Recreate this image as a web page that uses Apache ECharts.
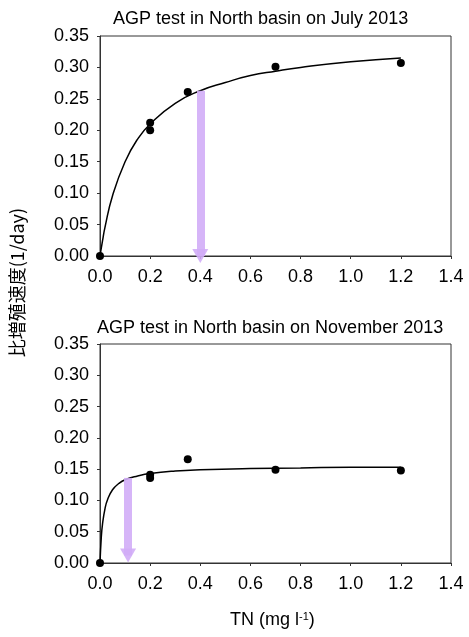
<!DOCTYPE html>
<html>
<head>
<meta charset="utf-8">
<script src="https://cdn.jsdelivr.net/npm/echarts@6/dist/echarts.min.js"></script>
<style>
  html, body { margin: 0; padding: 0; background: #fff; }
  #chart { width: 469px; height: 637px; }
</style>
</head>
<body>
<div id="chart"></div>
<script>
var xTicks = [0, 0.2, 0.4, 0.6, 0.8, 1.0, 1.2, 1.4];

// July 2013 - measured points
var julyX = [0, 0.2, 0.2, 0.35, 0.7, 1.2];
var julyY = [0, 0.212, 0.200, 0.261, 0.301, 0.307];
// July 2013 - fitted curve
var julyFitX = [0, 0.01, 0.02, 0.05, 0.1, 0.15, 0.2, 0.3, 0.4, 0.5, 0.6, 0.7, 0.8, 1.0, 1.2];
var julyFitY = [0, 0.024, 0.046, 0.096, 0.150, 0.186, 0.210, 0.243, 0.263, 0.276, 0.287, 0.294, 0.300, 0.309, 0.315];
var julyArrow = [0.4, 0.263, 0];

// November 2013
var novX = [0, 0.2, 0.2, 0.35, 0.7, 1.2];
var novY = [0, 0.141, 0.136, 0.166, 0.149, 0.148];
var novFitX = [0, 0.005, 0.01, 0.02, 0.03, 0.05, 0.075, 0.1, 0.15, 0.2, 0.3, 0.4, 0.6, 0.8, 1.0, 1.2];
var novFitY = [0, 0.040, 0.062, 0.087, 0.101, 0.117, 0.127, 0.133, 0.139, 0.143, 0.147, 0.149, 0.151, 0.152, 0.153, 0.153];
var novArrow = [0.112, 0.136, 0.012];

var titles = ['AGP test in North basin on July 2013', 'AGP test in North basin on November 2013'];

var chart = echarts.init(document.getElementById('chart'));
var font = 'Liberation Sans, Arial, sans-serif';
var arrowColor = '#d2adf7';

function zip(a, b) { return a.map(function (v, i) { return [v, b[i]]; }); }

function xAxis(idx) {
  return {
    gridIndex: idx, type: 'value', min: 0, max: 1.4, interval: 0.2,
    axisLine: { show: true, lineStyle: { color: '#333', width: 1 } },
    axisTick: { show: true, length: 3, lineStyle: { color: '#333' } },
    splitLine: { show: false },
    axisLabel: { color: '#000', fontSize: 18, fontFamily: font, margin: 12,
      formatter: function (v) { return v.toFixed(1); } }
  };
}
function yAxis(idx) {
  return {
    gridIndex: idx, type: 'value', min: 0, max: 0.35, interval: 0.05,
    axisLine: { show: true, lineStyle: { color: '#333', width: 1 } },
    axisTick: { show: true, length: 3, lineStyle: { color: '#333' } },
    splitLine: { show: false },
    axisLabel: { color: '#000', fontSize: 18, fontFamily: font, margin: 11,
      formatter: function (v) { return v.toFixed(2); } }
  };
}
function arrowSeries(idx, a) {
  return {
    type: 'line', xAxisIndex: idx, yAxisIndex: idx, data: [], z: 1,
    markLine: {
      silent: true, symbol: ['none', 'triangle'], symbolSize: [16, 14],
      label: { show: false },
      lineStyle: { color: arrowColor, width: 8, type: 'solid', opacity: 0.9 },
      data: [[{ coord: [a[0], a[1]] }, { coord: [a[0], a[2]] }]]
    }
  };
}

var option = {
  animation: false,
  title: [
    { text: titles[0], left: 108, top: 5, textStyle: { fontSize: 18, fontWeight: 'normal', color: '#000', fontFamily: font } },
    { text: titles[1], left: 92, top: 314, textStyle: { fontSize: 18, fontWeight: 'normal', color: '#000', fontFamily: font } }
  ],
  grid: [
    { left: 100, top: 36, width: 351, height: 220, show: true, borderColor: '#333', borderWidth: 1 },
    { left: 100, top: 344, width: 351, height: 219, show: true, borderColor: '#333', borderWidth: 1 }
  ],
  xAxis: [xAxis(0), xAxis(1)],
  yAxis: [yAxis(0), yAxis(1)],
  graphic: [
    { type: 'text', left: 8, top: 208, rotation: Math.PI / 2,
      style: { text: '比増殖速度(1/day)', fontSize: 18, fontFamily: 'Noto Sans CJK JP, sans-serif', fill: '#000' } },
    { type: 'text', left: 230, top: 611,
      style: { rich: { a: { fontSize: 18, fontFamily: font }, s: { fontSize: 11, fontFamily: font, verticalAlign: 'top', padding: [0, 0, 8, 0] } },
        text: '{a|TN (mg l}{s|-1}{a|)}', fill: '#000' } }
  ],
  series: [
    arrowSeries(0, julyArrow),
    arrowSeries(1, novArrow),
    { type: 'line', xAxisIndex: 0, yAxisIndex: 0, data: zip(julyFitX, julyFitY), smooth: true,
      showSymbol: false, lineStyle: { color: '#000', width: 1.5 }, z: 2 },
    { type: 'line', xAxisIndex: 1, yAxisIndex: 1, data: zip(novFitX, novFitY), smooth: true,
      showSymbol: false, lineStyle: { color: '#000', width: 1.5 }, z: 2 },
    { type: 'scatter', xAxisIndex: 0, yAxisIndex: 0, data: zip(julyX, julyY), symbolSize: 8,
      itemStyle: { color: '#000', opacity: 1 }, z: 3 },
    { type: 'scatter', xAxisIndex: 1, yAxisIndex: 1, data: zip(novX, novY), symbolSize: 8,
      itemStyle: { color: '#000', opacity: 1 }, z: 3 }
  ]
};
chart.setOption(option);
window.onresize = function () { chart.resize(); };
</script>
</body>
</html>
